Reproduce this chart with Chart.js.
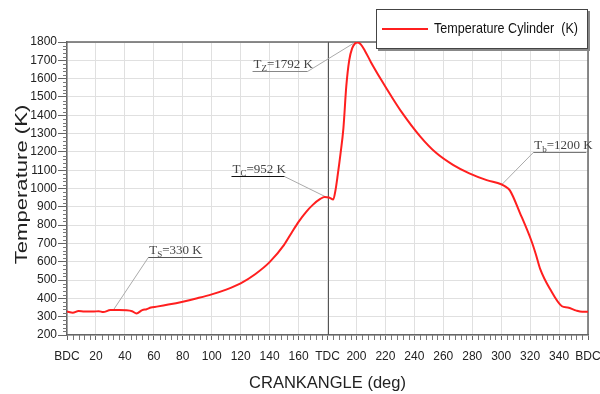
<!DOCTYPE html>
<html>
<head>
<meta charset="utf-8">
<script src="https://cdn.jsdelivr.net/npm/chart.js@4.4.0/dist/chart.umd.min.js"></script>
<style>
html,body{margin:0;padding:0;background:#fff;}
#wrap{width:600px;height:394px;}
</style>
</head>
<body>
<div id="wrap"><canvas id="myChart" width="600" height="394"></canvas></div>
<script>
// crank angle (deg) vs cylinder temperature (K)
let crankAngle = [0, 4, 8, 12, 18, 22, 25, 30, 36, 41, 45, 48, 52, 55, 58, 62, 70, 80, 90, 100,
    110, 120, 130, 140, 150, 155, 160, 165, 170, 175, 178, 181, 184, 185.5, 187, 189, 191, 193, 195, 197, 199,
    201, 203, 206, 210, 217, 224, 231, 244, 255, 267, 278, 290, 300, 303, 306, 313, 321, 324, 327, 334,
    342, 346, 352, 356, 360];
let cylTemp = [328, 321, 331, 328, 328, 330, 325, 336, 336, 335, 330, 318, 336, 341, 350, 355, 366, 382, 401, 422,
    448, 482, 532, 598, 692, 756, 818, 870, 912, 943, 954, 951, 940, 990, 1070, 1190, 1330, 1560, 1700, 1765, 1792,
    1797, 1787, 1750, 1690, 1595, 1505, 1420, 1285, 1195, 1128, 1083, 1046, 1023, 1010, 990, 866, 712, 640, 560, 448,
    357, 350, 333, 327, 327];

let xTickNames = {0: 'BDC', 180: 'TDC', 360: 'BDC'};

// marked states on the curve
let markSubs = ['S', 'C', 'Z', 'b'];
let markTexts = ['=330 K', '=952 K', '=1792 K', '=1200 K'];
let markAngles = [32, 178.6, 198, 300.8];
let markTemps = [336, 955, 1793, 1024];

// where each callout sits relative to its point (pixels)
let markLayout = [
    {dx: 35, dy: -53, len: 54, side: 'left', ul: '#555'},
    {dx: -41, dy: -21, len: 53, side: 'right', ul: '#111'},
    {dx: -46, dy: 28, len: 55, side: 'right', ul: '#888'},
    {dx: 31, dy: -32, len: 53, side: 'left', ul: '#777'}
];

Chart.defaults.font.family = '"Liberation Sans", Arial, sans-serif';

let points = crankAngle.map((a, i) => ({x: a, y: cylTemp[i]}));

function noOverhang(s) {
    s.paddingLeft = 0;
    s.paddingRight = 0;
    s.paddingTop = 0;
    s.paddingBottom = 0;
}

const extras = {
    id: 'extras',
    beforeDatasetsDraw(chart) {
        const {ctx, chartArea: a, scales: {x, y}} = chart;
        ctx.save();
        // top and right frame
        ctx.strokeStyle = '#666';
        ctx.lineWidth = 1.5;
        ctx.beginPath();
        ctx.moveTo(a.left, a.top);
        ctx.lineTo(a.right, a.top);
        ctx.lineTo(a.right, a.bottom);
        ctx.stroke();

        // TDC line
        let px = Math.round(x.getPixelForValue(180)) + 0.5;
        ctx.strokeStyle = '#555';
        ctx.lineWidth = 1;
        ctx.beginPath();
        ctx.moveTo(px, a.top);
        ctx.lineTo(px, a.bottom);
        ctx.stroke();

        // minor ticks
        ctx.strokeStyle = '#777';
        ctx.beginPath();
        for (let v = 0; v <= 360; v += 4) {
            if (v % 20 === 0) continue;
            let p = Math.round(x.getPixelForValue(v)) + 0.5;
            ctx.moveTo(p, a.bottom);
            ctx.lineTo(p, a.bottom + 5);
        }
        for (let v = 200; v <= 1800; v += 20) {
            if (v % 100 === 0) continue;
            let p = Math.round(y.getPixelForValue(v)) + 0.5;
            ctx.moveTo(a.left - 4, p);
            ctx.lineTo(a.left, p);
        }
        ctx.stroke();

        // callouts
        for (let i = 0; i < markSubs.length; i++) {
            let L = markLayout[i];
            let ax = x.getPixelForValue(markAngles[i]);
            let ay = y.getPixelForValue(markTemps[i]);
            let jx = ax + L.dx, jy = Math.round(ay + L.dy) + 0.5;
            let left = L.side === 'left' ? jx : jx - L.len;
            ctx.strokeStyle = '#aaa';
            ctx.lineWidth = 1;
            ctx.beginPath();
            ctx.moveTo(ax, ay);
            ctx.lineTo(jx, jy);
            ctx.stroke();
            ctx.strokeStyle = L.ul;
            ctx.lineWidth = 1.2;
            ctx.beginPath();
            ctx.moveTo(left, jy);
            ctx.lineTo(left + L.len, jy);
            ctx.stroke();

            ctx.fillStyle = '#444';
            ctx.textBaseline = 'alphabetic';
            ctx.textAlign = 'left';
            let tx = left + 1, base = jy - 4;
            ctx.font = '13px "Liberation Serif", serif';
            ctx.fillText('T', tx, base);
            tx += ctx.measureText('T').width;
            ctx.font = '9px "Liberation Serif", serif';
            ctx.fillText(markSubs[i], tx, base + 3);
            tx += ctx.measureText(markSubs[i]).width;
            ctx.font = '13px "Liberation Serif", serif';
            ctx.fillText(markTexts[i], tx, base);
        }

        // y axis title
        ctx.translate(22, (a.top + a.bottom) / 2 - 4);
        ctx.rotate(-Math.PI / 2);
        ctx.scale(1.3, 1);
        ctx.font = '17px "Liberation Sans", Arial';
        ctx.fillStyle = '#222';
        ctx.textAlign = 'center';
        ctx.textBaseline = 'middle';
        ctx.fillText('Temperature (K)', 0, 0);
        ctx.restore();
    },
    afterDatasetsDraw(chart) {
        const ctx = chart.ctx;
        const ds = chart.data.datasets[0];
        ctx.save();
        // legend box
        ctx.fillStyle = '#888';
        ctx.fillRect(378, 11, 212, 40);
        ctx.fillStyle = '#fff';
        ctx.fillRect(376, 9, 212, 40);
        ctx.strokeStyle = '#444';
        ctx.lineWidth = 1;
        ctx.strokeRect(376.5, 9.5, 211, 39);
        ctx.strokeStyle = ds.borderColor;
        ctx.lineWidth = 2;
        ctx.beginPath();
        ctx.moveTo(382, 29);
        ctx.lineTo(428, 29);
        ctx.stroke();
        ctx.fillStyle = '#111';
        ctx.font = '15px "Liberation Sans", Arial';
        ctx.textBaseline = 'middle';
        let w = ctx.measureText(ds.label).width;
        ctx.translate(434, 29);
        ctx.scale(144 / w, 1);
        ctx.fillText(ds.label, 0, 0);
        ctx.restore();
    }
};

let myChart = new Chart(document.getElementById('myChart'), {
    type: 'line',
    data: {
        datasets: [{
            label: 'Temperature Cylinder  (K)',
            data: points,
            borderColor: '#ff1f1f',
            borderWidth: 2,
            pointRadius: 0,
            fill: false,
            cubicInterpolationMode: 'monotone'
        }]
    },
    options: {
        responsive: false,
        animation: false,
        layout: {padding: {top: 42, right: 12, left: 0, bottom: 0}},
        plugins: {legend: {display: false}, tooltip: {enabled: false}},
        scales: {
            x: {
                type: 'linear',
                min: 0,
                max: 360,
                afterFit: s => { s.height = 59; noOverhang(s); },
                ticks: {
                    stepSize: 20,
                    autoSkip: false,
                    maxRotation: 0,
                    padding: 9,
                    color: '#222',
                    font: {size: 12},
                    callback: v => xTickNames[v] !== undefined ? xTickNames[v] : String(v)
                },
                grid: {color: '#e0e0e0', tickColor: '#666', tickLength: 5},
                border: {color: '#666', width: 1.5},
                title: {display: true, text: 'CRANKANGLE (deg)', color: '#222',
                    font: {size: 16.5}, padding: {top: 0, bottom: 1}}
            },
            y: {
                min: 200,
                max: 1800,
                afterFit: s => { s.width = 67; noOverhang(s); },
                ticks: {stepSize: 100, autoSkip: false, padding: 1, color: '#222', font: {size: 12},
                    callback: v => String(v)},
                grid: {color: '#e0e0e0', tickColor: '#666', tickLength: 9},
                border: {color: '#666', width: 1.5}
            }
        }
    },
    plugins: [extras]
});
</script>
</body>
</html>
